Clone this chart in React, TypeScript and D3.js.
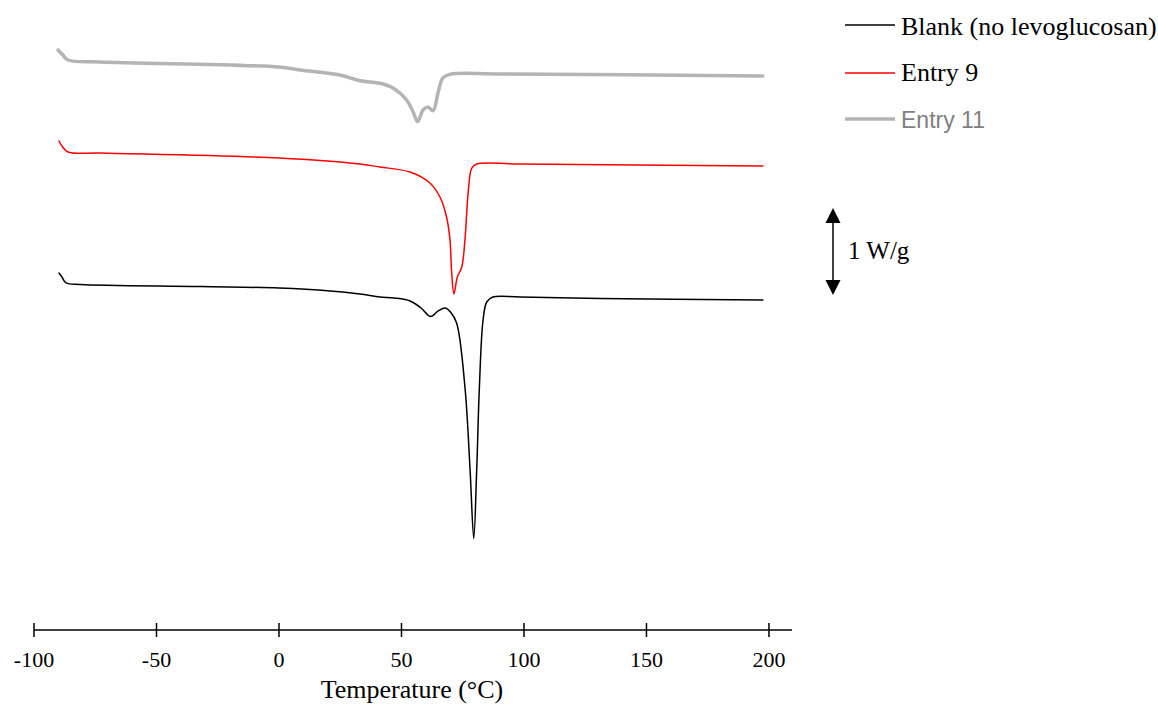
import React from "react";
import * as d3 from "d3";

// Temperature (°C) and heat flow (W/g, curves vertically offset)
const blankT = [-89.8, -88.6, -86.9, -81, -32, 0, 21, 33, 41.2, 47, 53.5, 58, 61.9, 65, 67.8, 70, 72.5, 75.9, 78.0, 79.5, 80.7, 81.8, 83.3, 84.8, 87.3, 98.4, 131, 197.5];
const blankV = [4.103, 4.057, 3.989, 3.971, 3.948, 3.931, 3.897, 3.862, 3.828, 3.816, 3.782, 3.701, 3.603, 3.667, 3.701, 3.655, 3.529, 2.793, 1.839, 1.052, 1.839, 2.793, 3.563, 3.770, 3.828, 3.828, 3.810, 3.793];

const entry9T = [-89.8, -88.6, -86.1, -73, 0, 33, 41.2, 53.5, 61.6, 65.7, 68.4, 69.8, 70.5, 71.4, 72.8, 74.6, 75.9, 77.3, 78.7, 80.7, 98.4, 197.5];
const entry9V = [5.621, 5.563, 5.494, 5.483, 5.425, 5.356, 5.322, 5.264, 5.138, 4.977, 4.747, 4.483, 4.100, 3.862, 4.057, 4.172, 4.483, 5.057, 5.310, 5.356, 5.356, 5.333];

const entry11T = [-90.2, -88.6, -86.1, -73, 0, 8.6, 24.9, 33.1, 41.2, 46.5, 52.1, 54.7, 56.6, 58.8, 60.8, 62.9, 64.9, 66.9, 69.8, 90.2, 197.5];
const entry11V = [6.667, 6.621, 6.552, 6.529, 6.471, 6.437, 6.379, 6.314, 6.284, 6.230, 6.092, 5.957, 5.843, 5.977, 6.011, 5.969, 6.172, 6.345, 6.387, 6.391, 6.368];

const xTicks = [-100, -50, 0, 50, 100, 150, 200];
const seriesNames = ["Blank (no levoglucosan)", "Entry 9", "Entry 11"];
const scaleBarValue = 1; // W/g

const serif = "'Liberation Serif', 'Times New Roman', serif";
const sans = "'Liberation Sans', Arial, sans-serif";

export default function App() {
  const W = 1158, H = 707;
  const x = d3.scaleLinear().domain([-100, 209.4]).range([34, 792]);
  const y = d3.scaleLinear().domain([0, 7.2414]).range([630, 0]);
  const line = d3
    .line<[number, number]>()
    .x((d) => x(d[0]))
    .y((d) => y(d[1]))
    .curve(d3.curveCatmullRom.alpha(0.5));
  const zip = (t: number[], v: number[]) => t.map((tt, i) => [tt, v[i]] as [number, number]);

  const series = [
    { name: seriesNames[0], data: zip(blankT, blankV), color: "#000000", width: 1.5, font: serif, textColor: "#000", fs: 26 },
    { name: seriesNames[1], data: zip(entry9T, entry9V), color: "#ff0000", width: 1.5, font: serif, textColor: "#000", fs: 26 },
    { name: seriesNames[2], data: zip(entry11T, entry11V), color: "#b4b4b4", width: 3.5, font: sans, textColor: "#7f7f7f", fs: 23 },
  ];
  const legendY = [25, 73, 119];
  const legendBase = [35, 81, 128];

  const axisY = 630;
  const arrowX = 833;
  const arrowTop = 208;
  const arrowBot = arrowTop + (y(0) - y(scaleBarValue));

  return (
    <svg width={W} height={H} style={{ position: "absolute", left: 0, top: 0, background: "#fff" }}>
      {series.map((s, i) => (
        <path key={i} d={line(s.data) || ""} fill="none" stroke={s.color} strokeWidth={s.width} strokeLinejoin="round" strokeLinecap="round" />
      ))}
      {/* x axis */}
      <line x1={x(-100)} x2={x(209.4)} y1={axisY} y2={axisY} stroke="#000" strokeWidth={1.5} />
      {xTicks.map((t) => (
        <g key={t}>
          <line x1={x(t)} x2={x(t)} y1={axisY - 7} y2={axisY + 7} stroke="#000" strokeWidth={1.5} />
          <text x={x(t)} y={667} textAnchor="middle" fontFamily={serif} fontSize={22} fill="#000">
            {t}
          </text>
        </g>
      ))}
      <text x={412} y={698} textAnchor="middle" fontFamily={serif} fontSize={26} fill="#000">
        Temperature (°C)
      </text>
      {/* legend */}
      {series.map((s, i) => (
        <g key={"l" + i}>
          <line x1={845} x2={895} y1={legendY[i]} y2={legendY[i]} stroke={s.color} strokeWidth={s.width} />
          <text x={901} y={legendBase[i]} fontFamily={s.font} fontSize={s.fs} fill={s.textColor}>
            {s.name}
          </text>
        </g>
      ))}
      {/* scale bar */}
      <line x1={arrowX} x2={arrowX} y1={arrowTop + 12} y2={arrowBot - 12} stroke="#000" strokeWidth={1.5} />
      <path d={`M${arrowX},${arrowTop} L${arrowX - 7.5},${arrowTop + 15} L${arrowX + 7.5},${arrowTop + 15} Z`} fill="#000" />
      <path d={`M${arrowX},${arrowBot} L${arrowX - 7.5},${arrowBot - 15} L${arrowX + 7.5},${arrowBot - 15} Z`} fill="#000" />
      <text x={848} y={259} fontFamily={serif} fontSize={25} fill="#000">
        {scaleBarValue} W/g
      </text>
    </svg>
  );
}
